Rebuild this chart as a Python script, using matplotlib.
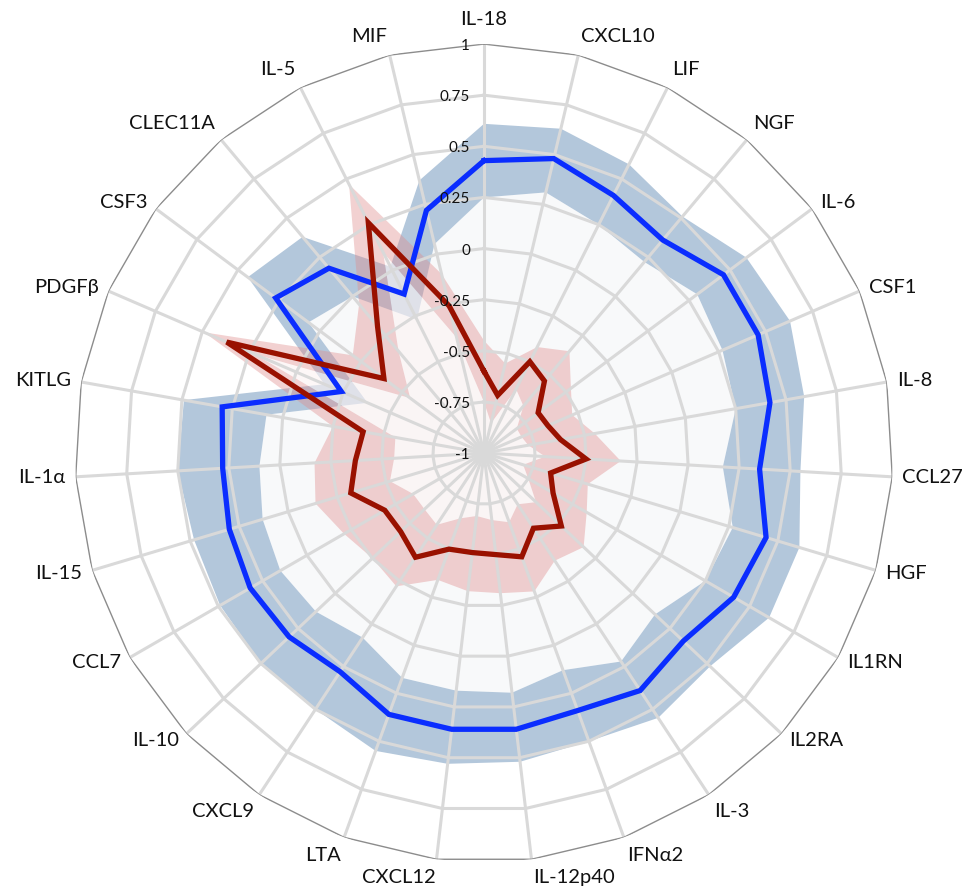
import numpy as np
import matplotlib
matplotlib.use("Agg")
import matplotlib.pyplot as plt
from matplotlib.transforms import offset_copy

plt.rcParams['font.family'] = ['Lato', 'DejaVu Sans']

# categories, clockwise from the top
categories = ['IL-18', 'CXCL10', 'LIF', 'NGF', 'IL-6', 'CSF1', 'IL-8', 'CCL27', 'HGF',
              'IL1RN', 'IL2RA', 'IL-3', 'IFNα2', 'IL-12p40', 'CXCL12', 'LTA', 'CXCL9',
              'IL-10', 'CCL7', 'IL-15', 'IL-1α', 'KITLG', 'PDGFβ', 'CSF3', 'CLEC11A',
              'IL-5', 'MIF']

# blue series: line and band
blue_mid = [0.43, 0.48, 0.41, 0.36, 0.46, 0.46, 0.42, 0.35, 0.44, 0.41, 0.34, 0.39, 0.34, 0.36,
            0.36, 0.36, 0.28, 0.31, 0.32, 0.30, 0.28, 0.30, -0.24, 0.27, 0.18, -0.13, 0.22]
blue_low = [0.25, 0.31, 0.25, 0.22, 0.30, 0.27, 0.25, 0.17, 0.27, 0.25, 0.15, 0.22, 0.13, 0.18,
            0.17, 0.17, 0.08, 0.13, 0.15, 0.13, 0.10, 0.08, -0.38, 0.07, 0.00, -0.27, 0.05]
blue_high = [0.61, 0.63, 0.58, 0.51, 0.60, 0.63, 0.59, 0.55, 0.61, 0.61, 0.52, 0.55, 0.50, 0.52,
             0.53, 0.55, 0.50, 0.50, 0.49, 0.48, 0.50, 0.49, -0.15, 0.44, 0.38, 0.02, 0.37]

# red series: line and band
red_mid = [-0.60, -0.71, -0.50, -0.54, -0.67, -0.66, -0.62, -0.50, -0.66, -0.61, -0.48, -0.56,
           -0.46, -0.50, -0.51, -0.50, -0.39, -0.44, -0.44, -0.32, -0.37, -0.40, 0.37, -0.39,
           -0.19, 0.26, -0.26]
red_low = [-0.75, -0.85, -0.65, -0.70, -0.80, -0.80, -0.78, -0.70, -0.80, -0.75, -0.65, -0.70,
           -0.64, -0.67, -0.69, -0.66, -0.58, -0.60, -0.60, -0.52, -0.56, -0.56, 0.22, -0.55,
           -0.35, 0.10, -0.42]
red_high = [-0.45, -0.55, -0.42, -0.35, -0.47, -0.53, -0.45, -0.33, -0.47, -0.42, -0.33, -0.37,
            -0.28, -0.31, -0.32, -0.34, -0.22, -0.25, -0.21, -0.14, -0.17, -0.25, 0.49, -0.20,
            -0.05, 0.47, -0.10]

ring_levels = [-0.75, -0.5, -0.25, 0, 0.25, 0.5, 0.75]
tick_levels = [-1, -0.75, -0.5, -0.25, 0, 0.25, 0.5, 0.75, 1]
tick_labels = ['-1', '-0.75', '-0.5', '-0.25', '0', '0.25', '0.5', '0.75', '1']


def closed(v):
    v = list(v)
    return np.array(v + v[:1])


n = len(categories)
theta = np.linspace(0, 2 * np.pi, n, endpoint=False)
th = closed(theta)

fig = plt.figure(figsize=(9.70, 8.92), dpi=100)
ax = fig.add_axes([0.0773, 0.0336, 0.8433, 0.917], projection='polar')
ax.set_theta_zero_location('N')
ax.set_theta_direction(-1)
ax.set_ylim(-1, 1)
ax.axis('off')


def band(lo, hi):
    t = np.concatenate([th, th[::-1]])
    r = np.concatenate([closed(hi), closed(lo)[::-1]])
    return t, r


# fills
ax.fill(th, closed(blue_low), color='#f8f9fa', lw=0, zorder=1)
t, r = band(blue_low, blue_high)
ax.fill(t, r, color='#b3c7db', lw=0, zorder=2)
ax.fill(th, closed(red_low), color='#fdf3f3', alpha=0.6, lw=0, zorder=3)
t, r = band(red_low, red_high)
ax.fill(t, r, color='#e08c8c', alpha=0.4, lw=0, zorder=4)

# polygon grid
for lv in ring_levels:
    ax.plot(th, [lv] * len(th), color='#d9d9d9', lw=2.2, zorder=5)
for a in theta:
    ax.plot([a, a], [-1, 1], color='#d9d9d9', lw=2.2, zorder=5)
ax.plot(th, [1] * len(th), color='#8c8c8c', lw=1.0, zorder=5)

# lines
ax.plot(th, closed(blue_mid), color='#0a2dff', lw=3.8, zorder=6, solid_joinstyle='miter')
ax.plot(th, closed(red_mid), color='#991100', lw=3.8, zorder=7, solid_joinstyle='miter')

# radial tick labels along the first spoke
tr = offset_copy(ax.transData, fig=fig, x=-14, y=-2, units='dots')
for lv, lb in zip(tick_levels, tick_labels):
    ax.text(0, lv, lb, transform=tr, ha='right', va='center', fontsize=11,
            color='#111111', zorder=8)

# category labels
for a, name in zip(theta, categories):
    s, c = np.sin(a), np.cos(a)
    ha = 'center' if abs(s) < 0.05 else ('left' if s > 0 else 'right')
    va = 'bottom' if c > 0.7 else ('top' if c < -0.7 else 'center')
    rr = 1.08 if abs(s) < 0.05 else 1.05
    ax.text(a, rr, name, ha=ha, va=va, fontsize=14.5, color='#111111')

fig.savefig('out.png', dpi=100, facecolor='white')
